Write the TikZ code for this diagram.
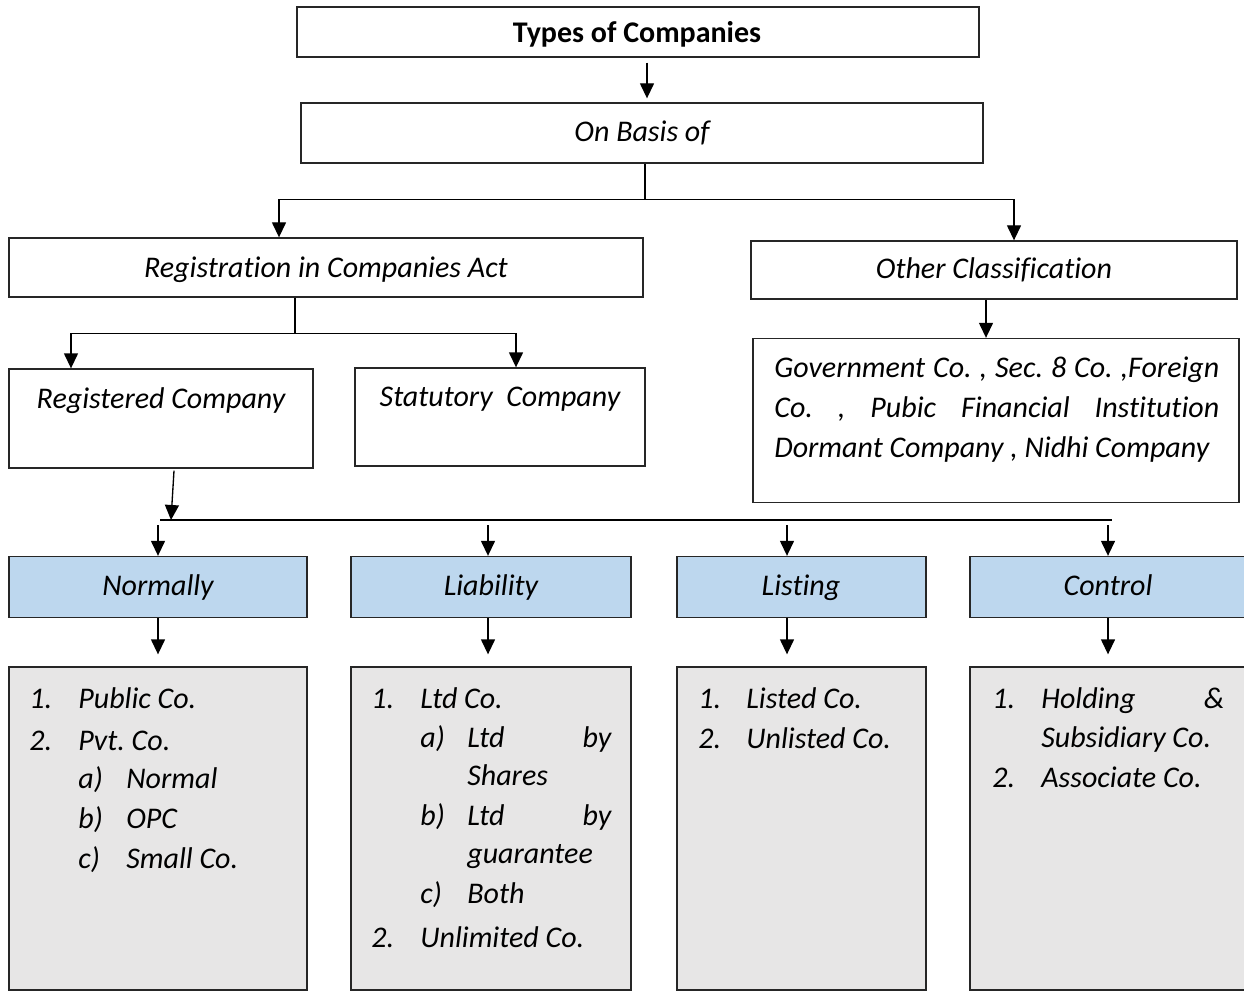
\documentclass[tikz,border=0pt]{standalone}
\usepackage{fontspec}
\setmainfont{Carlito}[Ligatures=NoCommon]
\usetikzlibrary{arrows.meta,calc}
\definecolor{catblue}{HTML}{BDD7EE}
\definecolor{listgrey}{HTML}{E7E6E6}
\frenchspacing
\begin{document}
\begin{tikzpicture}[x=0.6pt,y=-0.6pt,
  bx/.style 2 args={draw=black!85, line width=0.8pt, rectangle, inner sep=0pt,
    minimum width=#1*0.6pt, minimum height=#2*0.6pt},
  cat/.style={fill=catblue},
  lst/.style={fill=listgrey},
  txt/.style={inner sep=0pt, anchor=base, font=\fontsize{18}{24}\selectfont\itshape},
  ltxt/.style={txt, anchor=base west},
  ln/.style={line width=0.8pt, draw=black},
  arr/.style={ln, -{Triangle[length=9pt,width=8.4pt]}}]

\useasboundingbox (0,0) rectangle (1244,992);

% ---- top levels
\node[bx={682}{50}] (title) at (638,32) {};
\node[txt, font=\fontsize{18}{24}\selectfont\bfseries] (titlet) at (637,43) {Types of Companies};
\node[bx={682}{60}] (basis) at (642,133) {};
\node[txt] (basist) at (642,142) {On Basis of};
\node[bx={634}{59}] (reg) at (326,267.5) {};
\node[txt] (regt) at (326,277) {Registration in Companies Act};
\node[bx={486}{58}] (other) at (994,270) {};
\node[txt] (othert) at (994,278) {Other Classification};
\node[bx={304}{99}] (regco) at (161,418.5) {};
\node[txt] (regcot) at (161,408) {Registered Company};
\node[bx={290}{98}] (stat) at (500,417) {};
\node[txt] (statt) at (500,406) {Statutory\ \ Company};
\node[bx={486}{164}] (olist) at (996,420.5) {};
\node[ltxt] (ol1) at (774,377) {\makebox[267pt][s]{Government Co. , Sec. 8 Co. ,Foreign}};
\node[ltxt] (ol2) at (774,417) {\makebox[267pt][s]{Co. , Pubic Financial Institution}};
\node[ltxt] (ol3) at (774,457) {Dormant Company , Nidhi Company};

% ---- categories
\node[bx={298}{61},cat] (norm) at (158,587) {};
\node[bx={280}{61},cat] (liab) at (491,587) {};
\node[bx={249}{61},cat] (list) at (801.5,587) {};
\node[bx={280}{61},cat] (ctrl) at (1110,587) {};
\node[txt] (normt) at (158,595) {Normally};
\node[txt] (liabt) at (491,595) {Liability};
\node[txt] (listt) at (801,595) {Listing};
\node[txt] (ctrlt) at (1108,595) {Control};

% ---- list boxes
\node[bx={298}{323},lst] (nlist) at (158,828.5) {};
\node[bx={280}{323},lst] (llist) at (491,828.5) {};
\node[bx={249}{323},lst] (slist) at (801.5,828.5) {};
\node[bx={280}{323},lst] (clist) at (1110,828.5) {};

% Normally list
\node[ltxt] (n1n) at (29,708) {1.};
\node[ltxt] (n1t) at (78,708) {Public Co.};
\node[ltxt] (n2n) at (29,750) {2.};
\node[ltxt] (n2t) at (78,750) {Pvt. Co.};
\node[ltxt] (nan) at (78,788) {a)};
\node[ltxt] (nat) at (126,788) {Normal};
\node[ltxt] (nbn) at (78,828) {b)};
\node[ltxt] (nbt) at (126,828) {OPC};
\node[ltxt] (ncn) at (78,868) {c)};
\node[ltxt] (nct) at (126,868) {Small Co.};

% Liability list
\node[ltxt] (l1n) at (371,708) {1.};
\node[ltxt] (l1t) at (420,708) {Ltd Co.};
\node[ltxt] (lan) at (420,747) {a)};
\node[ltxt] (lat) at (467,747) {\makebox[86.4pt][s]{Ltd by}};
\node[ltxt] (lat2) at (467,785) {Shares};
\node[ltxt] (lbn) at (420,825) {b)};
\node[ltxt] (lbt) at (467,825) {\makebox[86.4pt][s]{Ltd by}};
\node[ltxt] (lbt2) at (467,863) {guarantee};
\node[ltxt] (lcn) at (420,903) {c)};
\node[ltxt] (lct) at (467,903) {Both};
\node[ltxt] (l2n) at (371,947) {2.};
\node[ltxt] (l2t) at (420,947) {Unlimited Co.};

% Listing list
\node[ltxt] (s1n) at (698,708) {1.};
\node[ltxt] (s1t) at (746,708) {Listed Co.};
\node[ltxt] (s2n) at (698,748) {2.};
\node[ltxt] (s2t) at (746,748) {Unlisted Co.};

% Control list
\node[ltxt] (c1n) at (992,708) {1.};
\node[ltxt] (c1t) at (1041,708) {\makebox[109.8pt][s]{Holding \&}};
\node[ltxt] (c1t2) at (1041,747) {Subsidiary Co.};
\node[ltxt] (c2n) at (992,787) {2.};
\node[ltxt] (c2t) at (1041,787) {Associate Co.};

% ---- connectors
\draw[arr] ([xshift=5.4pt,yshift=-3pt]title.south) -- ([xshift=5.4pt,yshift=2.4pt]title.south |- basis.north);
\draw[ln] ([xshift=1.8pt]basis.south) -- ++(0,36) coordinate (j1);
\draw[arr] (j1) -| ([xshift=-28.2pt]reg.north);
\draw[arr] (j1) -| ([xshift=12pt]other.north);

\draw[ln] ([xshift=-18.6pt]reg.south) -- ++(0,36) coordinate (j2);
\draw[arr] (j2) -| ([xshift=-54pt]regco.north);
\draw[arr] (j2) -| ([xshift=9.6pt]stat.north);

\draw[arr] ([xshift=-4.8pt]other.south) -- ([xshift=-4.8pt]other.south |- olist.north);

\coordinate (bus) at (171,520);
\coordinate (busl) at (160,520);
\coordinate (busr) at (1112,520);
\draw[arr] ([xshift=7.8pt,yshift=-1.2pt]regco.south) -- (bus);
\draw[ln] (busl) -- (busr);

\draw[arr] ($(norm.north |- bus)+(0,5)$) -- (norm.north);
\draw[arr] ($([xshift=-1.8pt]liab.north |- bus)+(0,5)$) -- ([xshift=-1.8pt]liab.north);
\draw[arr] ($([xshift=-8.7pt]list.north |- bus)+(0,5)$) -- ([xshift=-8.7pt]list.north);
\draw[arr] ($([xshift=-1.2pt]ctrl.north |- bus)+(0,5)$) -- ([xshift=-1.2pt]ctrl.north);

\draw[arr] (norm.south) -- ([yshift=7.2pt]nlist.north);
\draw[arr] ([xshift=-1.8pt]liab.south) -- ([xshift=-1.8pt,yshift=7.2pt]llist.north);
\draw[arr] ([xshift=-8.7pt]list.south) -- ([xshift=-8.7pt,yshift=7.2pt]slist.north);
\draw[arr] ([xshift=-1.2pt]ctrl.south) -- ([xshift=-1.2pt,yshift=7.2pt]clist.north);
\end{tikzpicture}
\end{document}
